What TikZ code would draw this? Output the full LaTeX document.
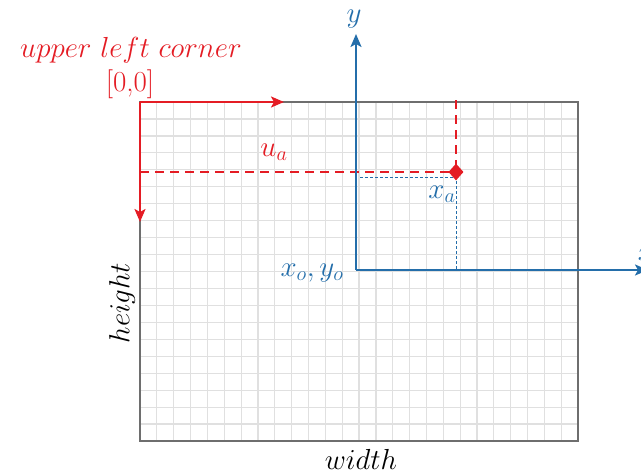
\RequirePackage{fix-cm}
\documentclass[tikz,border=0pt]{standalone}
\usetikzlibrary{arrows.meta,shapes.geometric}
\definecolor{myred}{RGB}{228,28,36}
\definecolor{myblue}{RGB}{36,110,170}
\definecolor{gridgray}{RGB}{224,224,224}
\definecolor{boxgray}{RGB}{110,110,110}
\tikzset{
  redarrow/.style={myred,line width=2.2pt,-{Stealth[length=13pt,width=11pt,inset=3pt]}},
  reddash/.style={myred,line width=2pt,dash pattern=on 9pt off 6pt},
  bluearrow/.style={myblue,line width=2pt,-{Stealth[length=13pt,width=11pt,inset=3pt]}},
  bluedash/.style={myblue,line width=0.8pt,dash pattern=on 3pt off 2pt},
  lbl/.style={inner sep=0pt,font=\fontsize{29}{32}\selectfont},
}
\begin{document}
\begin{tikzpicture}[x=1pt,y=-1pt]
\useasboundingbox (0,0) rectangle (641,474);
% grid
\begin{scope}
\clip (140,102) rectangle (578,441);
\foreach \i in {1,...,26} \draw[gridgray,line width=1.2pt] ({140+\i*16.85},102) -- ({140+\i*16.85},441);
\foreach \j in {1,...,20} \draw[gridgray,line width=1.2pt] (140,{102+\j*16.95}) -- (578,{102+\j*16.95});
\end{scope}
\draw[boxgray,line width=1.8pt] (140,102) rectangle (578,441);
% coordinates
\coordinate (ul) at (140,102);
\coordinate (rx) at (284,102);
\coordinate (dy) at (140,222);
\coordinate (o) at (356,270);
\coordinate (ytop) at (356,34);
\coordinate (xend) at (648,270);
\coordinate (pa) at (456,172);
\coordinate (pl) at (140,172);
\coordinate (pt) at (456,100);
\coordinate (bl) at (360,177);
\coordinate (bc) at (456,177);
\coordinate (bb) at (456,270);
% red
\draw[reddash] (pl) -- (pa);
\draw[reddash] (pt) -- (pa);
\draw[redarrow] (ul) -- (rx);
\draw[redarrow] (ul) -- (dy);
% blue
\draw[bluedash] (bl) -- (bc) -- (bb);
\draw[bluearrow] (o) -- (ytop);
\draw[bluearrow] (o) -- (xend);
\node[diamond,fill=myred,inner sep=0pt,minimum width=15pt,minimum height=17pt] (dia) at (pa) {};
% labels
\node[lbl,myred] (ulc) at (131,50) {$upper\ left\ corner$};
\node[lbl,myred] (zz) at (130,84) {[0,0]};
\node[lbl,myred] (ua) at (274,152) {$u_a$};
\node[lbl,myblue] (xa) at (442,194) {$x_a$};
\node[lbl,myblue] (xo) at (312,273) {$x_o,y_o$};
\node[lbl,myblue] (yl) at (354,19) {$y$};
\node[lbl,myblue] (xl) at (646,254) {$x$};
\node[lbl,black,rotate=90] (h) at (122,303) {$height$};
\node[lbl,black] (w) at (361,459) {$width$};
\end{tikzpicture}
\end{document}
